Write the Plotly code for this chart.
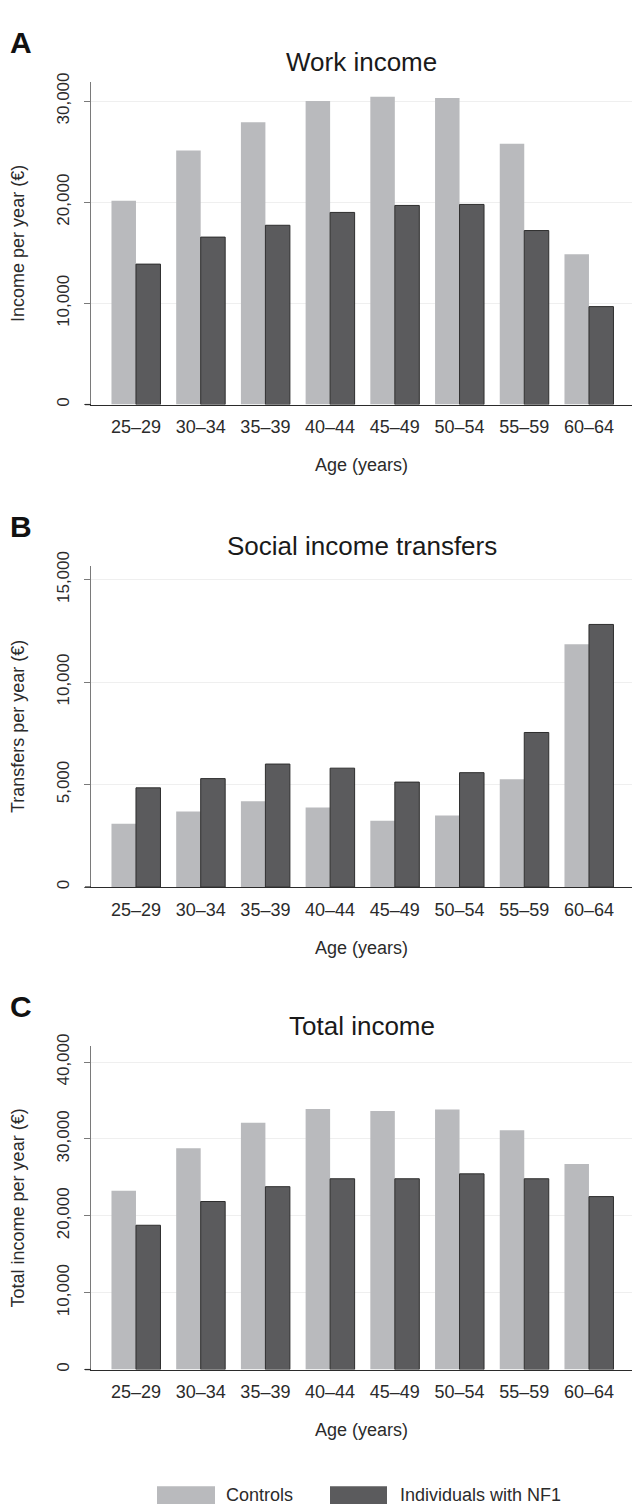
import plotly.graph_objects as go

# ---------------- data ----------------
age_groups = ["25–29", "30–34", "35–39", "40–44", "45–49", "50–54", "55–59", "60–64"]

work_controls = [20140, 25120, 27890, 30010, 30430, 30300, 25770, 14860]
work_nf1 = [13880, 16550, 17720, 18990, 19680, 19780, 17200, 9680]

transfers_controls = [3090, 3680, 4180, 3880, 3240, 3490, 5260, 11850]
transfers_nf1 = [4840, 5290, 6000, 5800, 5120, 5580, 7540, 12810]

total_controls = [23270, 28800, 32100, 33900, 33650, 33820, 31120, 26750]
total_nf1 = [18770, 21860, 23790, 24820, 24820, 25460, 24820, 22500]

series_names = ["Controls", "Individuals with NF1"]
panel_letters = ["A", "B", "C"]
panel_titles = ["Work income", "Social income transfers", "Total income"]
y_titles = ["Income per year (€)", "Transfers per year (€)", "Total income per year (€)"]
x_title = "Age (years)"

# ---------------- style / layout ----------------
W, H = 632, 1508
L, R = 91, 0
PW = W - L - R
FONT = "Liberation Sans, Arial, Helvetica, sans-serif"
C_CTRL = "#b9babd"
C_NF1 = "#5b5b5d"

# pixel extents of each panel (top of axis, bottom = zero line)
panels = [
    dict(top=68, bottom=394, ymax=31857, dtick=10000, ctrl=work_controls, nf1=work_nf1),
    dict(top=557, bottom=882, ymax=15675, dtick=5000, ctrl=transfers_controls, nf1=transfers_nf1),
    dict(top=1043, bottom=1370, ymax=42058, dtick=10000, ctrl=total_controls, nf1=total_nf1),
]

def py(px):
    return 1 - px / H

def pxx(px):
    return (px - L) / PW

fig = go.Figure()
annotations = []
shapes = []

for i, p in enumerate(panels):
    sfx = "" if i == 0 else str(i + 1)
    xa, ya = "x" + sfx, "y" + sfx
    fig.add_trace(go.Bar(
        x=age_groups, y=p["ctrl"], name=series_names[0], xaxis=xa, yaxis=ya,
        marker=dict(color=C_CTRL, line=dict(color=C_CTRL, width=0)),
        offsetgroup="c", showlegend=False,
    ))
    fig.add_trace(go.Bar(
        x=age_groups, y=p["nf1"], name=series_names[1], xaxis=xa, yaxis=ya,
        marker=dict(color=C_NF1, line=dict(color="#2e2e2e", width=1)),
        offsetgroup="n", showlegend=False,
    ))
    dom = [py(p["bottom"]), py(p["top"])]
    fig.update_layout(**{
        "xaxis" + sfx: dict(
            domain=[0, 1], anchor=ya, type="category",
            range=[-0.695, 7.665],
            showline=True, linecolor="#2b2b2b", linewidth=1.3,
            ticks="", showgrid=False, zeroline=False,
            tickfont=dict(family=FONT, size=18, color="#2b2b2b"),
            ticklabelstandoff=6,
            title=dict(text=x_title, font=dict(family=FONT, size=18, color="#2b2b2b"),
                       standoff=22),
            fixedrange=True,
        ),
        "yaxis" + sfx: dict(
            domain=dom, anchor=xa,
            range=[0, p["ymax"]], dtick=p["dtick"], tick0=0,
            tickformat=",d",
            showline=True, linecolor="#7a7a7a", linewidth=1.3,
            ticks="outside", ticklen=6, tickcolor="#7a7a7a", tickwidth=1.2,
            tickangle=-90,
            tickfont=dict(family=FONT, size=17, color="#2b2b2b"),
            ticklabelstandoff=8,
            showgrid=True, gridcolor="#efefef", gridwidth=1, zeroline=False,
            title=dict(text=y_titles[i], font=dict(family=FONT, size=18, color="#2b2b2b"),
                       standoff=24),
            fixedrange=True,
        ),
    })
    # panel letter
    annotations.append(dict(
        text=panel_letters[i], xref="paper", yref="paper",
        x=pxx(21), y=py(p["top"] - 40), xanchor="center", yanchor="middle",
        showarrow=False, font=dict(family=FONT, size=30, color="#111111", weight="bold"),
    ))
    # panel title
    annotations.append(dict(
        text=panel_titles[i], xref="paper", yref="paper",
        x=0.5, y=py(p["top"] - 20), xanchor="center", yanchor="middle",
        showarrow=False, font=dict(family=FONT, size=26, color="#1a1a1a"),
    ))
    # small extension of the baseline to the left of the y axis
    shapes.append(dict(
        type="line", xref="paper", yref="paper",
        x0=pxx(85), x1=pxx(91), y0=py(p["bottom"]), y1=py(p["bottom"]),
        line=dict(color="#2b2b2b", width=1.3),
    ))

# legend drawn as swatches + text
legend_items = [
    (157, 215, 224, C_CTRL, series_names[0]),
    (330, 387, 398, C_NF1, series_names[1]),
]
for x0, x1, tx, col, name in legend_items:
    shapes.append(dict(
        type="rect", xref="paper", yref="paper",
        x0=pxx(x0), x1=pxx(x1), y0=py(1506), y1=py(1488),
        fillcolor=col, line=dict(width=0),
    ))
    annotations.append(dict(
        text=name, xref="paper", yref="paper", x=pxx(tx), y=py(1497),
        xanchor="left", yanchor="middle", showarrow=False,
        font=dict(family=FONT, size=18, color="#2b2b2b"),
    ))

fig.update_layout(
    width=W, height=H, autosize=False,
    margin=dict(l=L, r=R, t=0, b=0, pad=0),
    paper_bgcolor="white", plot_bgcolor="white",
    barmode="group", bargap=0.243, bargroupgap=0,
    showlegend=False,
    annotations=annotations, shapes=shapes,
    font=dict(family=FONT),
)

fig.write_html("out.html")
